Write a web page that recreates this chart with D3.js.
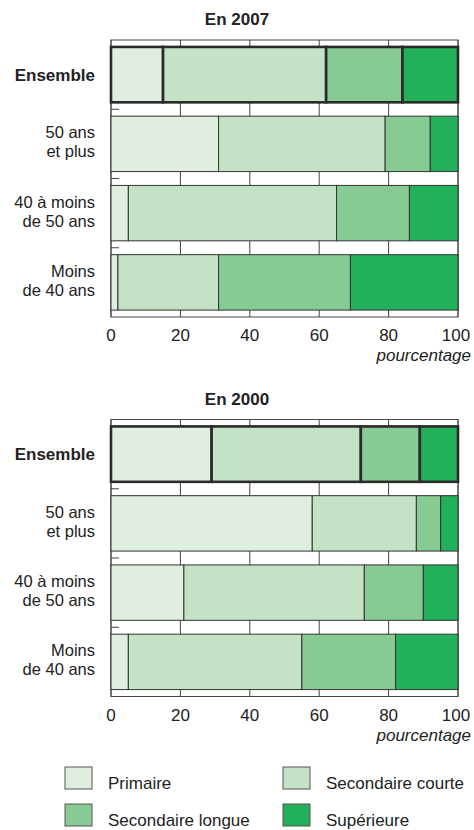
<!DOCTYPE html>
<html>
<head>
<meta charset="utf-8">
<script src="https://cdn.jsdelivr.net/npm/d3@7"></script>
<style>
  body { margin: 0; background: #fff; }
  svg { font-family: "Liberation Sans", Arial, sans-serif; }
</style>
</head>
<body>
<div id="chart"></div>
<script>
/* data */
var categories = ["Ensemble", "50 ans et plus", "40 à moins de 50 ans", "Moins de 40 ans"]
var categoryLines = [["Ensemble"], ["50 ans", "et plus"], ["40 à moins", "de 50 ans"], ["Moins", "de 40 ans"]]
var levels = ["Primaire", "Secondaire courte", "Secondaire longue", "Supérieure"]
var colors = ["#deefe0", "#c4e2c6", "#87ca93", "#22b05a"]

var values2007 = [
  [15, 47, 22, 16],
  [31, 48, 13, 8],
  [5, 60, 21, 14],
  [2, 29, 38, 31]
]
var values2000 = [
  [29, 43, 17, 11],
  [58, 30, 7, 5],
  [21, 52, 17, 10],
  [5, 50, 27, 18]
]
var xTicks = [0, 20, 40, 60, 80, 100]
var panels = [
  { title: "En 2007", values: values2007, top: 40 },
  { title: "En 2000", values: values2000, top: 419.5 }
]

var width = 474, height = 830
var left = 111, right = 458
var plotHeight = 277

var svg = d3.select("#chart").append("svg")
  .attr("width", width)
  .attr("height", height)

var x = d3.scaleLinear().domain([0, 100]).range([left, right])
var y = d3.scaleBand().domain(categories).range([0, plotHeight])
  .paddingInner(0.2).paddingOuter(0.1)

panels.forEach(function (p) {
  var g = svg.append("g").attr("transform", "translate(0," + p.top + ")")

  g.append("text")
    .attr("x", 237).attr("y", -15)
    .attr("text-anchor", "middle")
    .attr("font-weight", "bold")
    .attr("font-size", 17)
    .attr("fill", "#222")
    .text(p.title)

  // grid lines, behind the bars
  g.selectAll(".grid").data(xTicks).enter().append("line")
    .attr("x1", d => x(d)).attr("x2", d => x(d))
    .attr("y1", 0).attr("y2", plotHeight)
    .attr("stroke", "#444").attr("stroke-width", 1)

  // frame
  g.append("rect")
    .attr("x", left).attr("y", 0)
    .attr("width", right - left).attr("height", plotHeight)
    .attr("fill", "none").attr("stroke", "#444").attr("stroke-width", 1)

  // little stubs on the left between bands
  g.selectAll(".stub").data(categories.slice(1)).enter().append("line")
    .attr("x1", left).attr("x2", left + 8)
    .attr("y1", d => y(d) - y.step() * 0.1)
    .attr("y2", d => y(d) - y.step() * 0.1)
    .attr("stroke", "#444")

  // stacked bars
  var rows = g.selectAll(".row").data(p.values).enter().append("g")
    .attr("transform", (d, i) => "translate(0," + y(categories[i]) + ")")

  rows.each(function (row, i) {
    var stack = d3.cumsum(row)
    var thick = i === 0
    d3.select(this).selectAll("rect").data(row).enter().append("rect")
      .attr("x", (d, j) => x(stack[j] - d))
      .attr("width", d => x(d) - x(0))
      .attr("y", 0)
      .attr("height", y.bandwidth())
      .attr("fill", (d, j) => colors[j])
      .attr("stroke", thick ? "#2a2a2a" : "#333")
      .attr("stroke-width", thick ? 2.6 : 1)
  })

  // category labels
  var labels = g.selectAll(".cat").data(categories).enter().append("text")
    .attr("text-anchor", "end")
    .attr("font-size", (d, i) => i === 0 ? 17 : 16.5)
    .attr("fill", "#222")
    .attr("font-weight", (d, i) => i === 0 ? "bold" : "normal")
    .attr("transform", d => "translate(95," + (y(d) + y.bandwidth() / 2) + ")")

  labels.each(function (d, i) {
    var lines = categoryLines[i]
    var t = d3.select(this)
    lines.forEach(function (line, k) {
      var dy = lines.length === 1 ? 6 : (k === 0 ? -5.5 : 13.5)
      t.append("tspan").attr("x", 0).attr("y", dy).text(line)
    })
  })

  // x axis labels
  g.selectAll(".tick").data(xTicks).enter().append("text")
    .attr("x", d => x(d) + (d === 100 ? -2 : 0))
    .attr("y", plotHeight + 24)
    .attr("text-anchor", "middle")
    .attr("font-size", 17)
    .attr("fill", "#222")
    .text(d => d)

  g.append("text")
    .attr("x", 471).attr("y", plotHeight + 44)
    .attr("text-anchor", "end")
    .attr("font-size", 17)
    .attr("font-style", "italic")
    .attr("fill", "#222")
    .text("pourcentage")
})

// legend
var legendPos = [[65, 767], [283, 767], [65, 804], [283, 804]]
var legend = svg.selectAll(".legend").data(levels).enter().append("g")
  .attr("transform", (d, i) => "translate(" + legendPos[i][0] + "," + legendPos[i][1] + ")")

legend.append("rect")
  .attr("width", 27).attr("height", 22)
  .attr("fill", (d, i) => colors[i])
  .attr("stroke", "#555").attr("stroke-width", 1)

legend.append("text")
  .attr("x", 43).attr("y", 22)
  .attr("font-size", 17)
  .attr("fill", "#222")
  .text(d => d)
</script>
</body>
</html>
